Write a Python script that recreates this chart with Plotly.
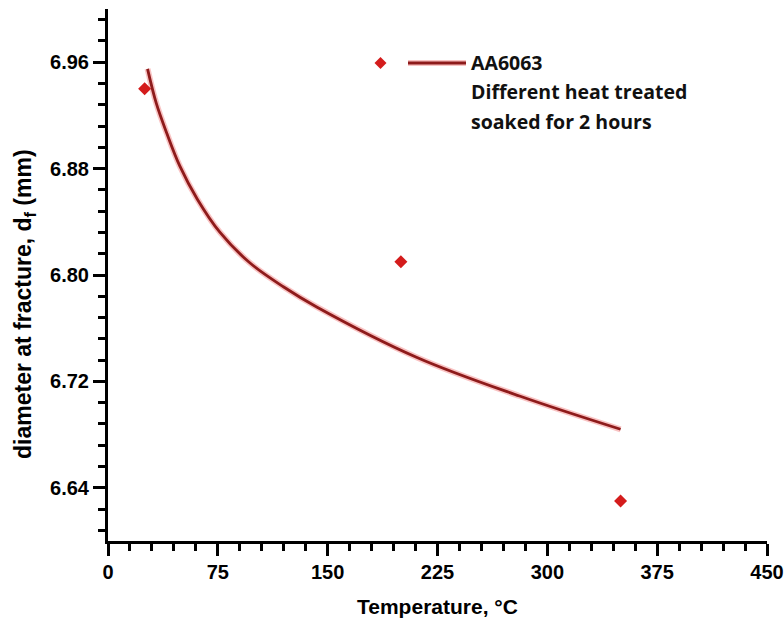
import plotly.graph_objects as go

# Measured fracture diameters after heat treatment (2 h soak)
temperature_c = [25, 200, 350]
diameter_mm = [6.940, 6.810, 6.630]

# Fitted trend line (points along the fitted curve)
fit_temperature_c = [27, 33, 40, 49, 61, 76.5, 97, 120, 142.5, 211, 281, 350]
fit_diameter_mm = [6.955, 6.929, 6.907, 6.882, 6.857, 6.832, 6.809, 6.791,
                   6.776, 6.738, 6.709, 6.684]

x_ticks = [0, 75, 150, 225, 300, 375, 450]
y_ticks = [6.64, 6.72, 6.80, 6.88, 6.96]

MARKER_RED = "#d41c1c"
LINE_RED = "#8e1b1b"
HALO = "rgba(235,40,40,0.28)"

fig = go.Figure()

# soft halo beneath the fit line
fig.add_trace(go.Scatter(
    x=fit_temperature_c, y=fit_diameter_mm, mode="lines",
    line=dict(color=HALO, width=6, shape="spline", smoothing=1.0),
    hoverinfo="skip", showlegend=False,
))
fig.add_trace(go.Scatter(
    x=fit_temperature_c, y=fit_diameter_mm, mode="lines",
    line=dict(color=LINE_RED, width=2.8, shape="spline", smoothing=1.0),
    showlegend=False, name="fit",
))
fig.add_trace(go.Scatter(
    x=temperature_c, y=diameter_mm, mode="markers",
    marker=dict(symbol="diamond", size=10, color=MARKER_RED,
                line=dict(width=0)),
    showlegend=False, name="AA6063",
))

tick_font = dict(family="Liberation Sans", size=20, color="black", weight="bold")

fig.update_xaxes(
    range=[0, 450], tickmode="array", tickvals=x_ticks,
    ticktext=[str(v) for v in x_ticks],
    showline=True, linecolor="black", linewidth=3,
    ticks="outside", ticklen=12, tickwidth=2.5, tickcolor="black",
    minor=dict(dtick=15, tick0=0, ticks="outside", ticklen=7,
               tickwidth=2.5, tickcolor="black", showgrid=False),
    showgrid=False, zeroline=False, tickfont=tick_font,
    ticklabelstandoff=-1, automargin=False,
)
fig.update_yaxes(
    range=[6.6, 7.0], tickmode="array", tickvals=y_ticks,
    ticktext=[f"{v:.2f}" for v in y_ticks],
    showline=True, linecolor="black", linewidth=3,
    ticks="outside", ticklen=12, tickwidth=2.5, tickcolor="black",
    minor=dict(dtick=0.016, tick0=6.64, ticks="outside", ticklen=7,
               tickwidth=2.5, tickcolor="black", showgrid=False),
    showgrid=False, zeroline=False, tickfont=tick_font,
    ticklabelstandoff=0, automargin=False,
)

W, H = 784, 622
ML, MR, MT, MB = 108, 17, 9, 81
PW, PH = W - ML - MR, H - MT - MB


def px_to_paper(px, py):
    return (px - ML) / PW, (H - MB - py) / PH


shapes = []
annotations = []

# legend: diamond, line and text block
dx_c, dy_c = px_to_paper(380.5, 63)
hx, hy = 6 / PW, 6 / PH
shapes.append(dict(
    type="path", xref="paper", yref="paper",
    path=(f"M {dx_c - hx} {dy_c} L {dx_c} {dy_c + hy} "
          f"L {dx_c + hx} {dy_c} L {dx_c} {dy_c - hy} Z"),
    fillcolor=MARKER_RED, line=dict(width=0),
))
lx0, ly = px_to_paper(408, 63)
lx1, _ = px_to_paper(466, 63)
shapes.append(dict(type="line", xref="paper", yref="paper",
                   x0=lx0, x1=lx1, y0=ly, y1=ly,
                   line=dict(color=HALO, width=6)))
shapes.append(dict(type="line", xref="paper", yref="paper",
                   x0=lx0, x1=lx1, y0=ly, y1=ly,
                   line=dict(color=LINE_RED, width=2.8)))

legend_font = dict(family="Open Sans", size=19.5, color="#111111", weight="bold")
for text, py in [("AA6063", 63), ("Different heat treated", 91),
                 ("soaked for 2 hours", 122)]:
    tx, ty = px_to_paper(469, py)
    annotations.append(dict(text=text, x=tx, y=ty, xref="paper", yref="paper",
                            xanchor="left", yanchor="middle", showarrow=False,
                            font=legend_font))

# axis titles
tx, ty = px_to_paper(437.5, 606)
annotations.append(dict(text="Temperature, °C", x=tx, y=ty, xref="paper", yref="paper",
                        xanchor="center", yanchor="middle", showarrow=False,
                        font=dict(family="Liberation Sans", size=21,
                                  color="black", weight="bold")))
tx, ty = px_to_paper(24, 304)
annotations.append(dict(text="diameter at fracture, d<sub>f</sub> (mm)", x=tx, y=ty,
                        xref="paper", yref="paper", textangle=-90,
                        xanchor="center", yanchor="middle", showarrow=False,
                        font=dict(family="Liberation Sans", size=23,
                                  color="black", weight="bold")))

fig.update_layout(
    width=W, height=H,
    margin=dict(l=ML, r=MR, t=MT, b=MB),
    paper_bgcolor="white", plot_bgcolor="white",
    shapes=shapes, annotations=annotations,
    showlegend=False,
)

fig.write_html("out.html")
